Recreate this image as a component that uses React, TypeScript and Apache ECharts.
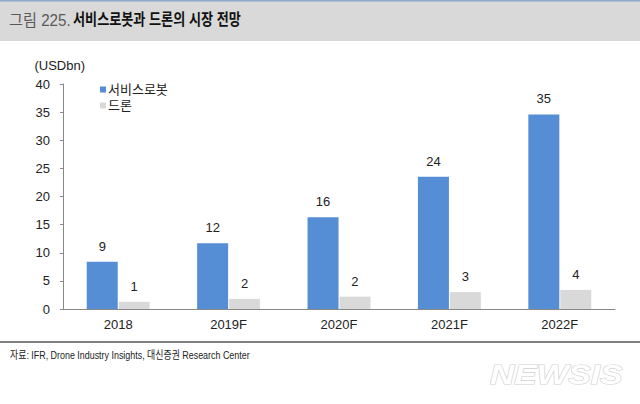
import React, { useEffect, useRef } from "react";
import * as echarts from "echarts";

const categories = ["2018", "2019F", "2020F", "2021F", "2022F"];
const robotValues = [8.4, 11.7, 16.3, 23.5, 34.6];
const droneValues = [1.3, 1.8, 2.2, 3.0, 3.4];
const robotLabels = ["9", "12", "16", "24", "35"];
const droneLabels = ["1", "2", "2", "3", "4"];
const seriesNames = ["서비스로봇", "드론"];

const FONT = "'Liberation Sans', 'Noto Sans CJK KR', sans-serif";

export default function App() {
  const ref = useRef<HTMLDivElement>(null);
  useEffect(() => {
    if (!ref.current) return;
    const chart = echarts.init(ref.current, null, { renderer: "svg" });
    chart.setOption({
      animation: false,
      backgroundColor: "#ffffff",
      textStyle: { fontFamily: FONT },
      grid: { left: 63, right: 25, top: 84, bottom: 95 },
      legend: {
        orient: "vertical",
        left: 95,
        top: 78,
        itemWidth: 6,
        itemHeight: 6,
        itemGap: 3,
        icon: "rect",
        textStyle: { fontSize: 13, color: "#222", fontFamily: FONT, padding: [0, 0, 0, -3] },
        data: seriesNames,
      },
      xAxis: {
        type: "category",
        data: categories,
        axisLine: { lineStyle: { color: "#888", width: 1 } },
        axisTick: { inside: true, length: 3, lineStyle: { color: "#888" } },
        axisLabel: { fontSize: 13, color: "#222", margin: 9, fontFamily: FONT },
      },
      yAxis: {
        type: "value",
        min: 0,
        max: 40,
        interval: 5,
        name: "(USDbn)",
        nameLocation: "end",
        nameGap: 12,
        nameTextStyle: { fontSize: 13, color: "#222", align: "right", padding: [0, -22, 0, 0], fontFamily: FONT },
        splitLine: { show: false },
        axisLine: { show: true, lineStyle: { color: "#888", width: 1 } },
        axisTick: { show: true, length: 3, lineStyle: { color: "#888" } },
        axisLabel: { fontSize: 13, color: "#222", margin: 13, fontFamily: FONT },
      },
      series: [
        {
          name: seriesNames[0],
          type: "bar",
          data: robotValues,
          barWidth: 31,
          barGap: "3%",
          itemStyle: { color: "#558ed5" },
          label: {
            show: true,
            position: "top",
            distance: 9,
            fontSize: 13,
            color: "#222",
            fontFamily: FONT,
            formatter: (p: any) => robotLabels[p.dataIndex],
          },
        },
        {
          name: seriesNames[1],
          type: "bar",
          data: droneValues,
          barWidth: 31,
          itemStyle: { color: "#d9d9d9" },
          label: {
            show: true,
            position: "top",
            distance: 9,
            fontSize: 13,
            color: "#222",
            fontFamily: FONT,
            formatter: (p: any) => droneLabels[p.dataIndex],
          },
        },
      ],
      graphic: [
        { type: "rect", left: 0, top: 0, shape: { width: 640, height: 41 }, style: { fill: "#d9d9d9" }, z: -10 },
        { type: "rect", left: 0, top: 0, shape: { width: 640, height: 1.5 }, style: { fill: "#8ea9cc" }, z: -9 },
        {
          type: "text",
          x: 9,
          y: 12,
          scaleX: 0.95,
          style: { text: "그림 225.", fontSize: 16, fill: "#595959", fontFamily: FONT },
        },
        {
          type: "text",
          x: 73,
          y: 12,
          scaleX: 0.82,
          style: { text: "서비스로봇과 드론의 시장 전망", fontSize: 16, fill: "#111", fontWeight: "bold", fontFamily: FONT },
        },
        {
          type: "line",
          shape: { x1: 0, y1: 342, x2: 640, y2: 342 },
          style: { stroke: "#7f7f7f", lineWidth: 2 },
        },
        {
          type: "text",
          x: 10,
          y: 350,
          scaleX: 0.81,
          style: {
            text: "자료: IFR, Drone Industry Insights, 대신증권 Research Center",
            fontSize: 11,
            fill: "#222",
            fontFamily: FONT,
          },
        },
        {
          type: "text",
          x: 490,
          y: 360,
          scaleX: 1.2,
          style: {
            text: "NEWSIS",
            fontSize: 28,
            fontWeight: "bold",
            fontStyle: "italic",
            fill: "#ffffff",
            stroke: "#d0d0d0",
            lineWidth: 1.2,
            fontFamily: "'Liberation Sans Narrow', sans-serif",
          },
        },
      ],
    });
    return () => chart.dispose();
  }, []);
  return <div ref={ref} style={{ width: 640, height: 404, position: "absolute", left: 0, top: 0 }} />;
}
